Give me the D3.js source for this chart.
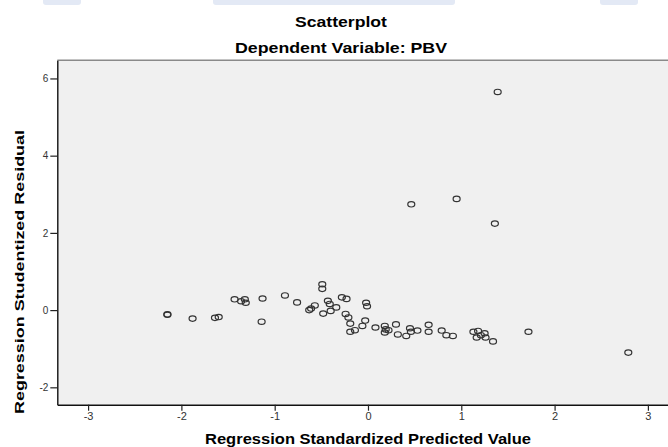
<!DOCTYPE html>
<html>
<head>
<meta charset="utf-8">
<script src="https://cdn.jsdelivr.net/npm/d3@7"></script>
<style>
  body { margin: 0; background: #fff; }
  text { font-family: "Liberation Sans", Arial, sans-serif; }
</style>
</head>
<body>
<div id="chart"></div>
<script>
// Regression Standardized Predicted Value
const predicted = [
    -2.15, -2.15, -1.88, -1.64, -1.60, -1.43, -1.36, -1.32, -1.31, -1.13, -1.14,
    -0.89, -0.76, -0.63, -0.61, -0.57, -0.49, -0.49, -0.48, -0.43, -0.41, -0.40,
    -0.34, -0.28, -0.23, -0.24, -0.21, -0.19, -0.19, -0.14, -0.06, -0.03, -0.02,
    -0.01, 0.08, 0.18, 0.19, 0.18, 0.22, 0.30, 0.32, 0.41, 0.45, 0.46, 0.53,
    0.65, 0.65, 0.79, 0.84, 0.91, 1.13, 1.18, 1.165, 1.21, 1.25, 1.26, 1.34,
    1.72, 2.79, 1.39, 0.464, 0.95, 1.36
];
// Regression Studentized Residual
const residual = [
    -0.11, -0.12, -0.22, -0.20, -0.18, 0.28, 0.23, 0.28, 0.19, 0.30, -0.30,
    0.38, 0.20, 0.00, 0.04, 0.12, 0.67, 0.55, -0.09, 0.24, 0.16, -0.02,
    0.07, 0.33, 0.29, -0.10, -0.19, -0.35, -0.56, -0.52, -0.41, -0.27, 0.19,
    0.10, -0.45, -0.41, -0.50, -0.58, -0.52, -0.37, -0.63, -0.67, -0.47, -0.56, -0.53,
    -0.38, -0.56, -0.53, -0.65, -0.67, -0.56, -0.54, -0.71, -0.65, -0.60, -0.71, -0.81,
    -0.56, -1.10, 5.65, 2.74, 2.88, 2.24
];

const xTicks = [-3, -2, -1, 0, 1, 2, 3];
const yTicks = [-2, 0, 2, 4, 6];
const xDomain = [-3.33, 3.42];
const yDomain = [-2.45, 6.47];

const title = "Scatterplot";
const subtitle = "Dependent Variable: PBV";
const xLabel = "Regression Standardized Predicted Value";
const yLabel = "Regression Studentized Residual";

const W = 668, H = 447;
const margin = { top: 60.3, left: 57.3, bottom: 42.3 };
const unitX = 93.3;
const plotW = unitX * (xDomain[1] - xDomain[0]);
const plotH = H - margin.top - margin.bottom;

const svg = d3.select("#chart")
    .append("svg")
    .attr("width", W)
    .attr("height", H);

// faint cut-off watermark at the top edge
[[43, 38], [213, 242], [600, 38]].forEach(([x0, w]) => {
    svg.append("rect")
        .attr("x", x0).attr("y", -4)
        .attr("width", w).attr("height", 9)
        .attr("rx", 3)
        .attr("fill", "#e3e9f5");
});

svg.append("text")
    .attr("x", 341).attr("y", 27)
    .attr("text-anchor", "middle")
    .attr("font-size", 15).attr("font-weight", "bold")
    .attr("textLength", 92).attr("lengthAdjust", "spacingAndGlyphs")
    .text(title);

svg.append("text")
    .attr("x", 341).attr("y", 53)
    .attr("text-anchor", "middle")
    .attr("font-size", 15).attr("font-weight", "bold")
    .attr("textLength", 212).attr("lengthAdjust", "spacingAndGlyphs")
    .text(subtitle);

const g = svg.append("g")
    .attr("transform", `translate(${margin.left},${margin.top})`);

const x = d3.scaleLinear().domain(xDomain).range([0, plotW]);
const y = d3.scaleLinear().domain(yDomain).range([plotH, 0]);

// plot background
g.append("rect")
    .attr("width", plotW).attr("height", plotH)
    .attr("fill", "#f0f0f0");

// top frame line
g.append("line")
    .attr("x1", 0).attr("x2", plotW)
    .attr("y1", 0).attr("y2", 0)
    .attr("stroke", "#8a8a8a").attr("stroke-width", 1.6);

g.selectAll("ellipse.pt")
    .data(predicted.map((p, i) => [p, residual[i]]))
    .enter()
    .append("ellipse")
    .attr("class", "pt")
    .attr("cx", d => x(d[0]))
    .attr("cy", d => y(d[1]))
    .attr("rx", 3.5)
    .attr("ry", 2.7)
    .attr("fill", "none")
    .attr("stroke", "#333")
    .attr("stroke-width", 1.2);

const xAxis = g.append("g")
    .attr("transform", `translate(0,${plotH})`)
    .call(d3.axisBottom(x).tickValues(xTicks).tickFormat(d => String(d))
        .tickSize(6).tickSizeOuter(0).tickPadding(2));

const yAxis = g.append("g")
    .call(d3.axisLeft(y).tickValues(yTicks).tickFormat(d => String(d))
        .tickSize(7).tickSizeOuter(0).tickPadding(2));

[xAxis, yAxis].forEach(a => {
    a.select(".domain").attr("stroke", "#111").attr("stroke-width", 1.4);
    a.selectAll(".tick line").attr("stroke", "#222").attr("stroke-width", 1.2);
    a.selectAll(".tick text")
        .attr("fill", "#333")
        .attr("font-family", "'Liberation Sans', Arial, sans-serif");
});
xAxis.selectAll(".tick text").attr("font-size", 11);
yAxis.selectAll(".tick text").attr("font-size", 10);

svg.append("text")
    .attr("x", margin.left + x(0))
    .attr("y", 444)
    .attr("text-anchor", "middle")
    .attr("font-size", 15).attr("font-weight", "bold")
    .attr("textLength", 326).attr("lengthAdjust", "spacingAndGlyphs")
    .text(xLabel);

svg.append("text")
    .attr("transform", "rotate(-90)")
    .attr("x", -272)
    .attr("y", 24)
    .attr("text-anchor", "middle")
    .attr("font-size", 13).attr("font-weight", "bold")
    .attr("textLength", 284).attr("lengthAdjust", "spacingAndGlyphs")
    .text(yLabel);
</script>
</body>
</html>
